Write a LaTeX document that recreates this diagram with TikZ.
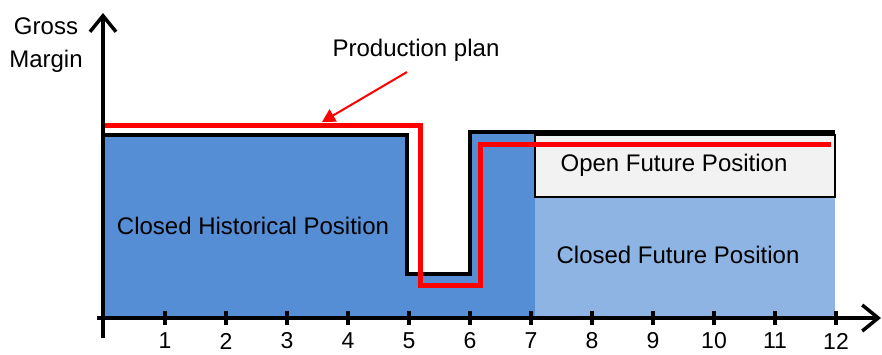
\documentclass[tikz,border=0pt]{standalone}
\usepackage{fontspec}
\setmainfont{Liberation Sans}
\usetikzlibrary{arrows.meta}
\definecolor{histblue}{RGB}{85,142,213}
\definecolor{futblue}{RGB}{142,180,227}
\definecolor{opengray}{RGB}{242,242,242}
\definecolor{planred}{RGB}{255,0,0}
\tikzset{
  lbl/.style={font=\fontsize{24}{28}\selectfont, inner sep=0pt},
  ticklbl/.style={font=\fontsize{23}{27}\selectfont, inner sep=0pt},
  axis/.style={line width=3.5pt, -{Straight Barb[length=16pt,width=26pt,line width=3.5pt]}},
  tickmark/.style={line width=3.5pt},
  stepline/.style={line width=4pt, line join=miter},
  planline/.style={planred, line width=5pt, line join=miter},
  pointer/.style={planred, line width=2pt, -{Triangle[length=13pt,width=14pt]}}
}
\begin{document}
\begin{tikzpicture}[x=1pt,y=-1pt]
\useasboundingbox (0,0) rectangle (882,354);

% closed historical position (area under the realised margin)
\fill[histblue] (104,318) -- (104,135) -- (408,135) -- (408,274) -- (469,274)
  -- (469,133) -- (535,133) -- (535,318) -- cycle;
% closed future position
\fill[futblue] (535,197) rectangle (835,318);
% open future position
\draw[fill=opengray, line width=1.5pt] (535,135) rectangle (835,197);

% realised / expected gross margin
\draw[stepline] (104,135) -- (407,135) -- (407,274) -- (470,274) -- (470,132) -- (835,132);
% production plan
\draw[planline] (104,125) -- (420,125) -- (420,285) -- (480,285) -- (480,144) -- (831,144);

% axes
\draw[axis] (103,338) -- (103,13);
\draw[axis] (97,318) -- (881,318);
\foreach \i in {1,...,12} {
  \draw[tickmark] ({104+61*\i},311) -- ({104+61*\i},325);
  \node[ticklbl] (t\i) at ({104+61*\i},341) {\i};
}

% labels
\node[lbl, align=center] (ylabel) at (46,45) {Gross\\[5pt]Margin};
\node[lbl] (plan) at (416,50) {Production plan};
\node[lbl] (hist) at (253,226) {Closed Historical Position};
\node[lbl] (open) at (674,165) {Open Future Position};
\node[lbl] (closedfut) at (678,255) {Closed Future Position};

% pointer to the production plan line
\coordinate (pstart) at (407,72);
\coordinate (pend) at (322,122);
\draw[pointer] (pstart) -- (pend);
\end{tikzpicture}
\end{document}
